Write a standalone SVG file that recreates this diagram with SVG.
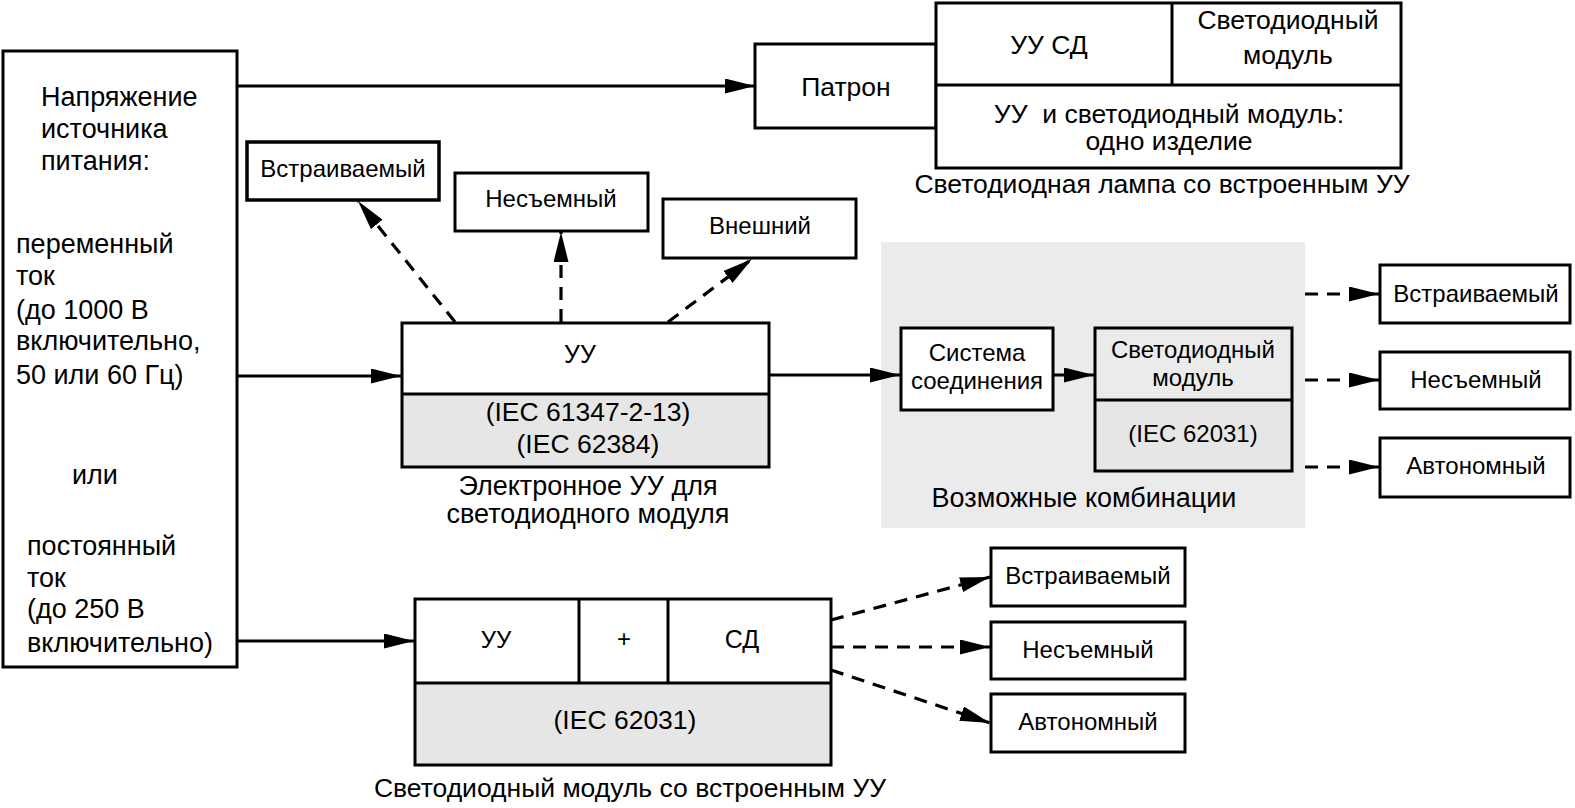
<svg xmlns="http://www.w3.org/2000/svg" width="1575" height="808" viewBox="0 0 1575 808">
<style>
.box{fill:#fff;stroke:#000;stroke-width:3}
.bx4{fill:#fff;stroke:#000;stroke-width:3.5}
.shade{fill:#e6e6e6}
.region{fill:#ebebeb}
.ln{stroke:#000;stroke-width:3;fill:none}
.sol{stroke:#000;stroke-width:3.2;fill:none}
.dsh{stroke:#000;stroke-width:3.2;fill:none;stroke-dasharray:13 9}
text{font-family:"Liberation Sans",Arial,sans-serif;fill:#000}
.s24{font-size:24px}
.s25{font-size:25px}
.s26{font-size:26.5px}
.s27{font-size:27px}
.m{text-anchor:middle}
</style>
<defs>
<marker id="ah" viewBox="0 0 30 15" refX="30" refY="7.5" markerWidth="30" markerHeight="15" markerUnits="userSpaceOnUse" orient="auto">
<path d="M0,0 L30,7.5 L0,15 z" fill="#000"/>
</marker>
</defs>
<rect width="1575" height="808" fill="#fff"/>

<g id="region-combinations">
<rect class="region" x="881" y="242" width="424" height="286"/>
<text class="s27 m" x="1084" y="507">Возможные комбинации</text>
</g>

<g id="source">
<rect class="box" x="3" y="51" width="234" height="616"/>
<text class="s27" x="41" y="106">Напряжение</text>
<text class="s27" x="41" y="138">источника</text>
<text class="s27" x="41" y="170">питания:</text>
<text class="s27" x="16" y="253">переменный</text>
<text class="s27" x="16" y="285">ток</text>
<text class="s27" x="16" y="319">(до 1000 В</text>
<text class="s27" x="16" y="350">включительно,</text>
<text class="s27" x="16" y="384">50 или 60 Гц)</text>
<text class="s27" x="72" y="484">или</text>
<text class="s27" x="27" y="555">постоянный</text>
<text class="s27" x="27" y="587">ток</text>
<text class="s27" x="27" y="618">(до 250 В</text>
<text class="s27" x="27" y="652">включительно)</text>
</g>

<g id="lamp">
<rect class="box" x="755" y="44" width="181" height="84"/>
<text class="s26 m" x="846" y="96">Патрон</text>
<rect class="box" x="936" y="3" width="465" height="165"/>
<line class="ln" x1="936" y1="85" x2="1401" y2="85"/>
<line class="ln" x1="1172" y1="3" x2="1172" y2="85"/>
<text class="s26 m" x="1049" y="54">УУ СД</text>
<text class="s26 m" x="1288" y="29">Светодиодный</text>
<text class="s26 m" x="1288" y="64">модуль</text>
<text class="s26 m" x="1169" y="123" xml:space="preserve">УУ  и светодиодный модуль:</text>
<text class="s26 m" x="1169" y="150">одно изделие</text>
<text class="s26 m" x="1162" y="193">Светодиодная лампа со встроенным УУ</text>
</g>

<g id="esb-built-in">
<rect class="bx4" x="247" y="142" width="192" height="58"/>
<text class="s24 m" x="343" y="177">Встраиваемый</text>
</g>
<g id="esb-fixed">
<rect class="box" x="455" y="173" width="193" height="58"/>
<text class="s24 m" x="551" y="207">Несъемный</text>
</g>
<g id="esb-external">
<rect class="box" x="663" y="199" width="193" height="59"/>
<text class="s24 m" x="760" y="234">Внешний</text>
</g>

<g id="esb">
<rect class="shade" x="402" y="394" width="367" height="73"/>
<rect class="box" x="402" y="323" width="367" height="144" style="fill:none"/>
<line class="ln" x1="402" y1="394" x2="769" y2="394"/>
<text class="s25 m" x="580" y="363">УУ</text>
<text class="s26 m" x="588" y="421">(IEC 61347-2-13)</text>
<text class="s26 m" x="588" y="453">(IEC 62384)</text>
<text class="s27 m" x="588" y="495">Электронное УУ для</text>
<text class="s27 m" x="588" y="523">светодиодного модуля</text>
</g>

<g id="connection-system">
<rect class="box" x="901" y="328" width="152" height="82"/>
<text class="s24 m" x="977" y="361">Система</text>
<text class="s24 m" x="977" y="389">соединения</text>
</g>

<g id="led-module">
<rect class="shade" x="1095" y="400" width="197" height="71"/>
<rect class="box" x="1095" y="328" width="197" height="143" style="fill:none"/>
<line class="ln" x1="1095" y1="400" x2="1292" y2="400"/>
<text class="s24 m" x="1193" y="358">Светодиодный</text>
<text class="s24 m" x="1193" y="386">модуль</text>
<text class="s24 m" x="1193" y="442">(IEC 62031)</text>
</g>

<g id="comb-built-in">
<rect class="box" x="1380" y="265" width="190" height="58"/>
<text class="s24 m" x="1476" y="302">Встраиваемый</text>
</g>
<g id="comb-fixed">
<rect class="box" x="1380" y="352" width="190" height="57"/>
<text class="s24 m" x="1476" y="388">Несъемный</text>
</g>
<g id="comb-independent">
<rect class="box" x="1380" y="438" width="190" height="59"/>
<text class="s24 m" x="1476" y="474">Автономный</text>
</g>

<g id="integral-module">
<rect class="shade" x="415" y="683" width="416" height="82"/>
<rect class="box" x="415" y="599" width="416" height="166" style="fill:none"/>
<line class="ln" x1="415" y1="683" x2="831" y2="683"/>
<line class="ln" x1="579" y1="599" x2="579" y2="683"/>
<line class="ln" x1="668" y1="599" x2="668" y2="683"/>
<text class="s24 m" x="496" y="648">УУ</text>
<text class="s24 m" x="624" y="647">+</text>
<text class="s25 m" x="742" y="648">СД</text>
<text class="s26 m" x="625" y="729">(IEC 62031)</text>
<text class="s26 m" x="630" y="797">Светодиодный модуль со встроенным УУ</text>
</g>

<g id="int-built-in">
<rect class="box" x="991" y="548" width="194" height="58"/>
<text class="s24 m" x="1088" y="584">Встраиваемый</text>
</g>
<g id="int-fixed">
<rect class="box" x="991" y="622" width="194" height="57"/>
<text class="s24 m" x="1088" y="658">Несъемный</text>
</g>
<g id="int-independent">
<rect class="box" x="991" y="694" width="194" height="58"/>
<text class="s24 m" x="1088" y="730">Автономный</text>
</g>

<g id="connectors">
<line class="sol" x1="237" y1="86" x2="755" y2="86" marker-end="url(#ah)"/>
<line class="sol" x1="237" y1="376" x2="401" y2="376" marker-end="url(#ah)"/>
<line class="sol" x1="237" y1="641" x2="414" y2="641" marker-end="url(#ah)"/>
<line class="sol" x1="769" y1="375" x2="900" y2="375" marker-end="url(#ah)"/>
<line class="sol" x1="1053" y1="375" x2="1094" y2="375" marker-end="url(#ah)"/>
<line class="dsh" x1="455" y1="322" x2="358" y2="201" marker-end="url(#ah)"/>
<line class="dsh" x1="561" y1="322" x2="561" y2="232" marker-end="url(#ah)"/>
<line class="dsh" x1="668" y1="322" x2="752" y2="259" marker-end="url(#ah)"/>
<line class="dsh" x1="1305" y1="294" x2="1379" y2="294" marker-end="url(#ah)"/>
<line class="dsh" x1="1305" y1="380" x2="1379" y2="380" marker-end="url(#ah)"/>
<line class="dsh" x1="1305" y1="467" x2="1379" y2="467" marker-end="url(#ah)"/>
<line class="dsh" x1="831" y1="620" x2="990" y2="577" marker-end="url(#ah)"/>
<line class="dsh" x1="831" y1="647" x2="990" y2="647" marker-end="url(#ah)"/>
<line class="dsh" x1="831" y1="670" x2="990" y2="723" marker-end="url(#ah)"/>
</g>
</svg>
